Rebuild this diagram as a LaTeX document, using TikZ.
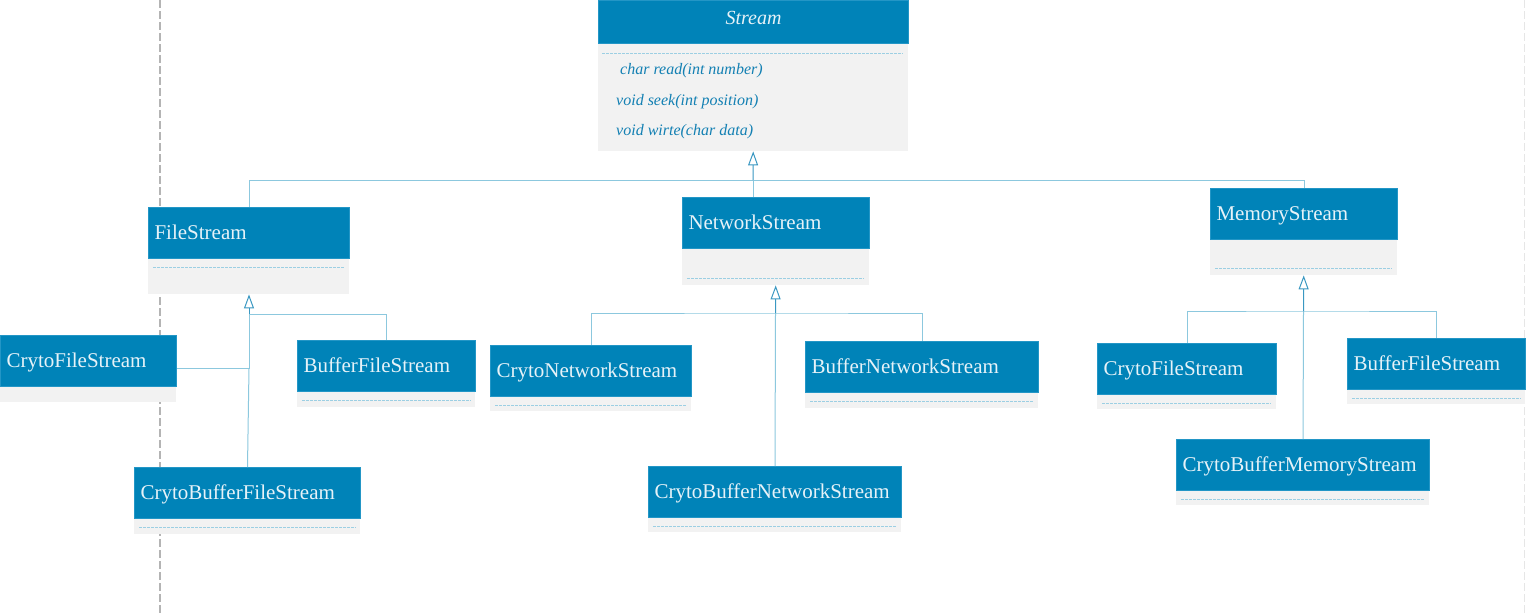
\documentclass[tikz,border=0pt]{standalone}
\usepackage{fontspec}
\setmainfont{Liberation Serif}
\usetikzlibrary{arrows.meta}
\definecolor{hdrblue}{HTML}{0083B8}
\definecolor{hdrborder}{HTML}{2396C6}
\definecolor{hdrtext}{HTML}{E6F2F8}
\definecolor{bodygray}{HTML}{F2F2F2}
\definecolor{dashblue}{HTML}{9CCFE3}
\definecolor{linkblue}{HTML}{8CC8DE}
\definecolor{arrowblue}{HTML}{3A98C2}
\definecolor{methodblue}{HTML}{1380B3}
\definecolor{guidegray}{HTML}{B4B4B4}
\definecolor{edgegray}{HTML}{E6E6E6}
\tikzset{
 hdr/.style={draw=hdrborder, line width=1pt, fill=hdrblue, text=hdrtext,
   font=\fontsize{21}{25}\selectfont, inner xsep=0pt, inner ysep=0pt,
   minimum height=51pt, text height=13pt, text depth=0pt, align=left},
 bodybox/.style={fill=bodygray, draw=none, inner sep=0pt},
 sepline/.style={draw=dashblue, line width=0.7pt, dash pattern=on 3pt off 1pt},
 link/.style={draw=linkblue, line width=1pt},
 inherit/.style={draw=arrowblue, line width=1pt, -{Triangle[open, length=14pt, width=10pt, fill=white]}},
 method/.style={text=methodblue, font=\fontsize{16}{19}\selectfont\itshape, inner sep=0pt, anchor=base west},
 guide/.style={draw=guidegray, line width=1.3pt, dash pattern=on 8pt off 3pt},
 edgeguide/.style={draw=edgegray, line width=1pt, dash pattern=on 8pt off 3pt},
}
% name, x, y, width, body height, dash offset (0 = none), text
\newcommand{\umlbox}[7]{%
 \node[hdr, text width=#4pt, anchor=north west] (#1) at (#2,#3) {\hspace*{6pt}\mbox{#7}};
 \node[bodybox, minimum width=#4pt, minimum height=#5pt, anchor=north west] (#1b) at (#1.south west) {};
 \ifnum#6>0 \draw[sepline] ([xshift=5pt,yshift=-#6pt]#1b.north west) -- ([xshift=-5pt,yshift=-#6pt]#1b.north east);\fi
}
\begin{document}
\begin{tikzpicture}[x=1pt,y=-1pt]
\useasboundingbox (0,0) rectangle (1526,613);
\fill[white] (0,0) rectangle (1526,613);
\draw[guide] (160,0) -- (160,613);
\draw[edgeguide] (1524.5,0) -- (1524.5,613);

% Stream
\node[hdr, text width=310pt, minimum height=43pt, align=center, text height=4pt,
  font=\fontsize{20}{24}\selectfont\itshape, anchor=north west] (stream) at (598,0) {Stream};
\node[bodybox, minimum width=310pt, minimum height=107pt, anchor=north west] (streamb) at (stream.south west) {};
\draw[sepline] ([xshift=4pt,yshift=-9pt]streamb.north west) -- ([xshift=-5pt,yshift=-9pt]streamb.north east);
\node[method] (m1) at (620,74.5) {char read(int number)};
\node[method] (m2) at (616,105) {void seek(int position)};
\node[method] (m3) at (616,135) {void wirte(char data)};

% second level
\umlbox{fs}{148}{207}{201}{35}{8}{FileStream}
\umlbox{ns}{682}{197}{187}{36}{29}{NetworkStream}
\umlbox{ms}{1210}{188}{187}{35}{28}{MemoryStream}

% FileStream children
\umlbox{cfs}{0}{335}{176}{15}{0}{CrytoFileStream}
\umlbox{bfs}{297}{340}{178}{15}{8}{BufferFileStream}
\umlbox{cbfs}{134}{467}{226}{15}{8}{CrytoBufferFileStream}

% NetworkStream children
\umlbox{cns}{490}{345}{201}{14}{8}{CrytoNetworkStream}
\umlbox{bns}{805}{341}{233}{15}{8}{BufferNetworkStream}
\umlbox{cbns}{648}{466}{253}{14}{8}{CrytoBufferNetworkStream}

% MemoryStream children
\umlbox{cms}{1097}{343}{179}{14}{8}{CrytoFileStream}
\umlbox{bms}{1347}{338}{178}{14}{8}{BufferFileStream}
\umlbox{cbms}{1176}{439}{253}{14}{8}{CrytoBufferMemoryStream}

% connectors: top level
\coordinate (sj) at (753,180);
\draw[link] (fs.north) -- (fs.north |- sj) -- (ms.north |- sj) -- (ms.north);
\draw[link] (ns.north -| sj) -- (sj);
\draw[inherit] (sj) -- (streamb.south);

% FileStream
\coordinate (fj) at (249,314);
\coordinate (fj2) at (249,368);
\draw[link] (fj) -| (bfs.north);
\draw[link] (cfs.east |- fj2) -- (fj2) -- (fj);
\draw[link] (fj2) -- (cbfs.north);
\draw[inherit] (fj) -- (fsb.south -| fj);

% NetworkStream
\coordinate (nj) at (775.5,313);
\draw[link] (cns.north) |- (nj) -| (bns.north);
\draw[link] (nj) -- (cbns.north);
\draw[inherit] (nj) -- (nsb.south);

% MemoryStream
\coordinate (mj) at (1303.5,311);
\draw[link] (cms.north) |- (mj) -| (bms.north);
\draw[link] (mj) -- (cbms.north);
\draw[inherit] (mj) -- (msb.south);
\end{tikzpicture}
\end{document}
